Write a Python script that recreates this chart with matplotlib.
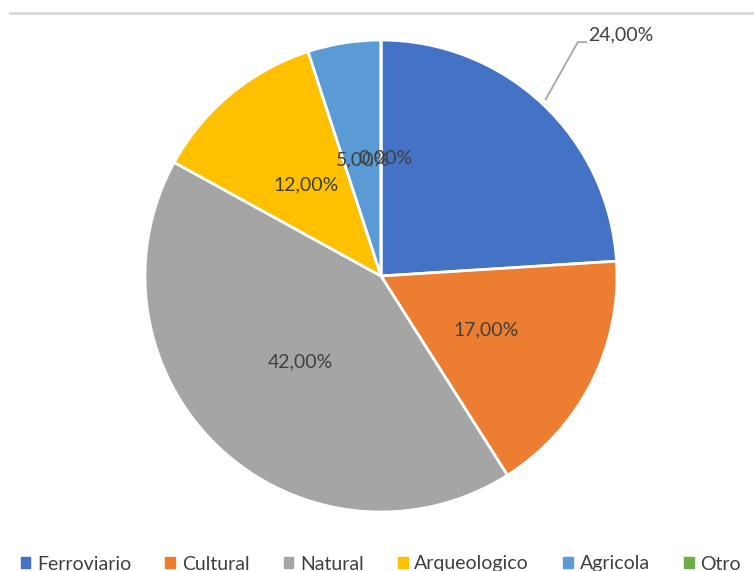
import matplotlib.pyplot as plt
from matplotlib.lines import Line2D
import numpy as np

categorias = ["Ferroviario", "Cultural", "Natural", "Arqueologico", "Agricola", "Otro"]
porcentajes = [24.0, 17.0, 42.0, 12.0, 5.0, 0.0]
colores = ["#4472C4", "#ED7D31", "#A5A5A5", "#FFC000", "#5B9BD5", "#70AD47"]

plt.rcParams['font.family'] = ['Lato', 'DejaVu Sans']
texto = "#404040"

fig = plt.figure(figsize=(7.54, 5.71), dpi=100)
W, H = 754, 571
cx, cy, r = 381, 295, 236
half = 262
ax = fig.add_axes([(cx - half) / W, (cy - half) / H, 2 * half / W, 2 * half / H])

wedges, _ = ax.pie(porcentajes, colors=colores, startangle=90, counterclock=False,
                   radius=1.0, wedgeprops=dict(edgecolor="white", linewidth=2))
ax.set_xlim(-half / r, half / r)
ax.set_ylim(-half / r, half / r)
ax.set_aspect("equal")
ax.axis("off")

# etiquetas de porcentaje
ang = 90.0
for i, v in enumerate(porcentajes):
    span = v / sum(porcentajes) * 360
    mid = np.deg2rad(ang - span / 2)
    ang -= span
    lab = f"{v:.2f}%".replace(".", ",")
    if i == 0:
        ax.plot([0.698, 0.834, 0.868], [0.749, 0.991, 0.991], color="#a6a6a6", lw=1.3,
                clip_on=False)
        ax.text(0.878, 0.985, lab, ha="left", va="bottom", fontsize=14, color=texto)
        continue
    d = 0.5
    ax.text(d * np.cos(mid) + (0.02 if i == 5 else 0), d * np.sin(mid), lab,
            ha="center", va="center", fontsize=14, color=texto)

# linea gris superior
fig.add_artist(Line2D([10 / W, 1.0], [1 - 13 / H, 1 - 13 / H], color="#d9d9d9", lw=2))

handles = [plt.Rectangle((0, 0), 1, 1, color=c) for c in colores]
fig.legend(handles, categorias, loc="center", bbox_to_anchor=(0.505, 7 / H), ncol=6,
           frameon=False, fontsize=14, handlelength=0.5, handleheight=0.5,
           handletextpad=0.35, columnspacing=1.75, labelcolor=texto)

fig.savefig("out.png", dpi=100, facecolor="white")
